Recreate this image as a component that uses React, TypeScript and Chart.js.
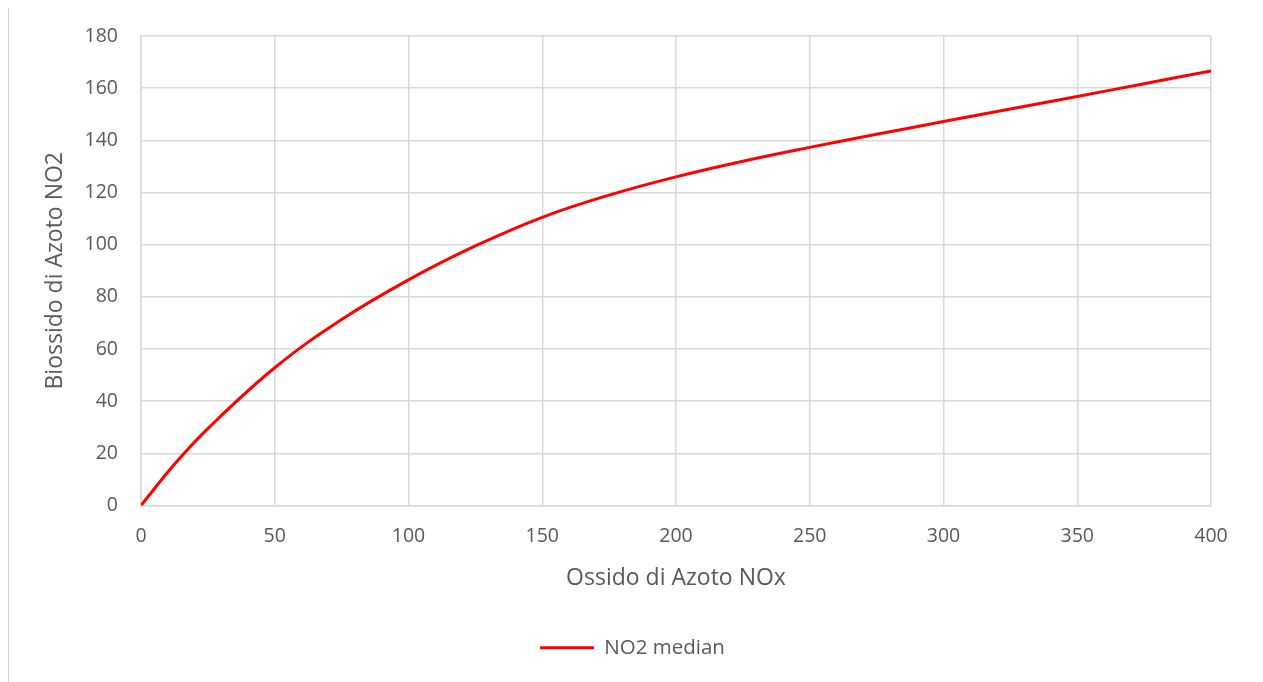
import React, { useEffect, useRef } from "react";
import { Chart, registerables } from "chart.js";

Chart.register(...registerables);

const noxValues = [0, 12.5, 25, 50, 75, 100, 125, 150, 175, 200, 225, 250, 275, 300, 325, 350, 375, 400];
const no2Median = [0, 15.8, 29.5, 52.8, 71.3, 86.5, 99.5, 110.5, 119, 126, 132, 137.3, 142.3, 147.2, 152, 156.8, 161.7, 166.6];
const seriesLabel = "NO2 median";
const xTitle = "Ossido di Azoto NOx";
const yTitle = "Biossido di Azoto NO2";

const FONT = "'Open Sans', sans-serif";
const TEXT = "#595959";
const GRID = "#d9d9d9";

export default function App() {
  const ref = useRef<HTMLCanvasElement | null>(null);
  useEffect(() => {
    document.body.style.overflow = "hidden";
    if (!ref.current) return;
    const chart = new Chart(ref.current, {
      type: "line",
      data: {
        datasets: [
          {
            label: seriesLabel,
            data: noxValues.map((x, i) => ({ x, y: no2Median[i] })),
            borderColor: "#ff0000",
            backgroundColor: "#ff0000",
            borderWidth: 3,
            pointRadius: 0,
            pointStyle: "line",
            tension: 0.4,
            fill: false,
            yAxisID: "y",
          },
        ],
      },
      options: {
        responsive: false,
        animation: false,
        layout: { padding: { left: 0, right: 0, top: 28, bottom: 20 } },
        plugins: {
          tooltip: { enabled: false },
          legend: {
            position: "bottom",
            labels: {
              usePointStyle: true,
              pointStyleWidth: 54,
              color: TEXT,
              font: { family: FONT, size: 20.5 },
              padding: 12,
            },
          },
        },
        scales: {
          x: {
            type: "linear",
            min: 0,
            max: 400,
            ticks: { stepSize: 50, color: TEXT, font: { family: FONT, size: 19.5 }, padding: 19 },
            grid: { color: GRID, lineWidth: 1.5, drawTicks: false },
            border: { color: GRID, width: 1.5 },
            title: { display: true, text: xTitle, color: TEXT, font: { family: FONT, size: 23 }, padding: { top: 0, bottom: 33 } },
            afterFit: (scale: any) => {
              scale.height = 120;
            },
          },
          y: {
            min: 0,
            max: 180,
            ticks: { stepSize: 20, color: TEXT, font: { family: FONT, size: 19.5 }, padding: 23 },
            grid: { color: GRID, lineWidth: 1.5, drawTicks: false },
            border: { color: GRID, width: 1.5 },
            title: { display: true, text: yTitle, color: TEXT, font: { family: FONT, size: 23 }, padding: { top: 33, bottom: 0 } },
            afterFit: (scale: any) => {
              scale.width = 132;
              scale.paddingTop = 12;
              scale.paddingBottom = 12;
            },
          },
          yRight: {
            position: "right",
            min: 0,
            max: 180,
            ticks: { display: false },
            grid: { display: false, drawTicks: false },
            border: { display: false },
            afterFit: (scale: any) => {
              scale.width = 45;
            },
          },
        },
      },
    });
    return () => chart.destroy();
  }, []);
  return (
    <div style={{ width: 1247, height: 680, border: "1px solid #cfcfcf", marginTop: -1, background: "#fff" }}>
      <canvas ref={ref} width={1247} height={680} style={{ display: "block" }} />
    </div>
  );
}
